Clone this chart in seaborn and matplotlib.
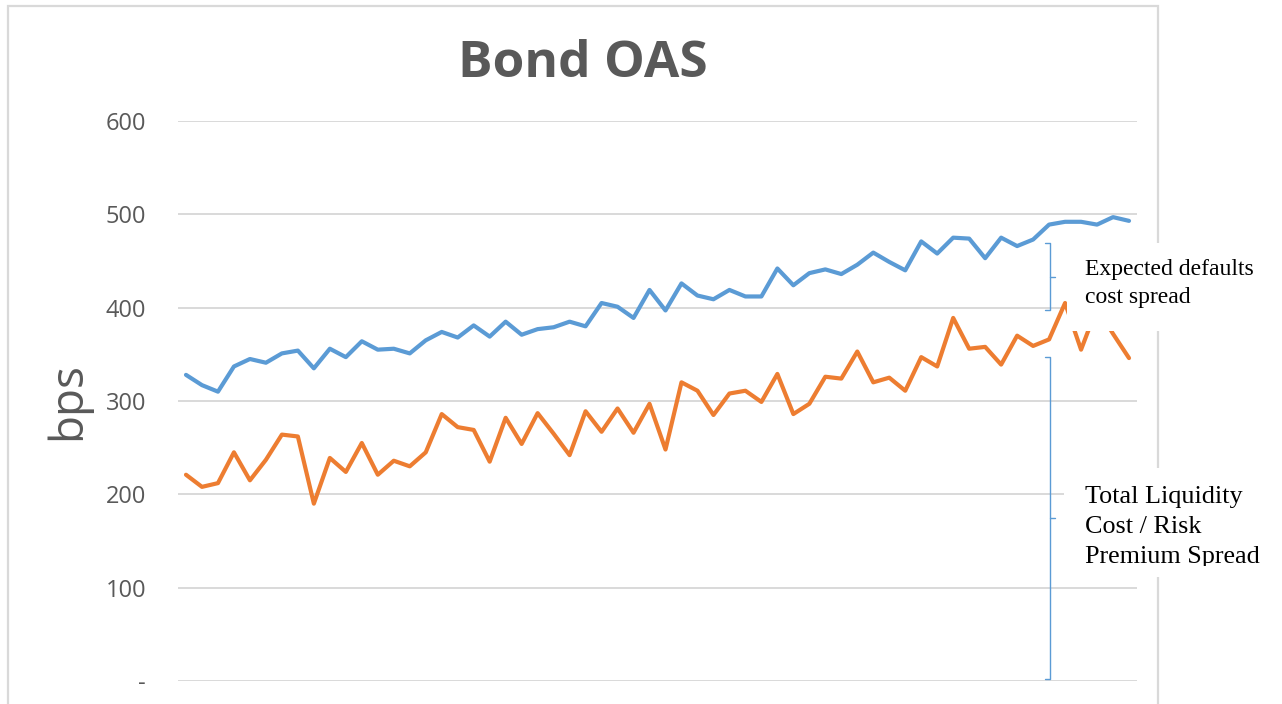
import numpy as np
import pandas as pd
import matplotlib
matplotlib.use("Agg")
import matplotlib.pyplot as plt
from matplotlib.patches import Rectangle
from matplotlib.transforms import Bbox, TransformedBbox
import seaborn as sns

total_oas = [328, 317, 310, 337, 345, 341, 351, 354, 335, 356,
             347, 364, 355, 356, 351, 365, 374, 368, 381, 369,
             385, 371, 377, 379, 385, 380, 405, 401, 389, 419,
             397, 426, 413, 409, 419, 412, 412, 442, 424, 437,
             441, 436, 446, 459, 449, 440, 471, 458, 475, 474,
             453, 475, 466, 473, 489, 492, 492, 489, 497, 493]
liquidity_spread = [221, 208, 212, 245, 215, 237, 264, 262, 190, 239,
                    224, 255, 221, 236, 230, 245, 286, 272, 269, 235,
                    282, 254, 287, 265, 242, 289, 267, 292, 266, 297,
                    248, 320, 311, 285, 308, 311, 299, 329, 286, 297,
                    326, 324, 353, 320, 325, 311, 347, 337, 389, 356,
                    358, 339, 370, 359, 366, 405, 355, 400, 372, 346]
series_names = ["Total OAS", "Liquidity / risk premium"]
series_colors = ["#5B9BD5", "#ED7D31"]
y_ticks = [0, 100, 200, 300, 400, 500, 600]
y_tick_labels = ["-", "100", "200", "300", "400", "500", "600"]

# brace annotations (bps ranges)
defaults_brace = (397, 469)
liquidity_brace = (2, 347)
defaults_text = ["Expected defaults", "cost spread"]
liquidity_text = ["Total Liquidity", "Cost / Risk", "Premium Spread"]

W, H = 1282, 704
GRAY = "#595959"
GRID = "#D9D9D9"
BRACE = "#5B9BD5"


def fx(x):
    return x / W


def fy(y):
    return 1 - y / H


sns.set_theme(style="white")
plt.rcParams["font.family"] = ["Open Sans", "DejaVu Sans"]

n = len(total_oas)
df = pd.DataFrame({
    "period": list(range(n)) * 2,
    "bps": total_oas + liquidity_spread,
    "series": [series_names[0]] * n + [series_names[1]] * n,
})

fig = plt.figure(figsize=(W / 100, H / 100), dpi=100)
ax = fig.add_axes([fx(178), fy(681), fx(1137) - fx(178), fy(121) - fy(681)])

sns.lineplot(data=df, x="period", y="bps", hue="series", palette=series_colors,
             linewidth=3.0, legend=False, ax=ax, zorder=3)

ax.set_xlim(-0.5, n - 0.5)
ax.set_ylim(0, 600)
ax.set_yticks(y_ticks)
ax.set_yticklabels(y_tick_labels)
ax.set_xticks([])
ax.set_xlabel("")
ax.set_ylabel("")
ax.tick_params(axis="y", length=0, pad=23, labelsize=17, labelcolor=GRAY)
for s in ax.spines.values():
    s.set_visible(False)
ax.grid(axis="y", color=GRID, linewidth=1.4)
ax.set_axisbelow(True)

# braces to the right of the series
bx = 54.07
for lo, hi in [defaults_brace, liquidity_brace]:
    mid = (lo + hi) / 2
    ax.plot([bx - 0.3, bx, bx, bx - 0.3], [hi, hi, lo, lo], color=BRACE,
            linewidth=1.0, clip_on=False, zorder=4)
    ax.plot([bx, bx + 0.3], [mid, mid], color=BRACE, linewidth=1.0,
            clip_on=False, zorder=4)

# chart frame
fig.patches.append(Rectangle((fx(8), fy(712)), fx(1158) - fx(8), fy(6) - fy(712),
                             transform=fig.transFigure, facecolor="none",
                             edgecolor=GRID, linewidth=1.6, zorder=-1))

# title and axis label
fig.text(fx(583), fy(77), "Bond OAS", ha="center", va="baseline",
         fontsize=37, fontweight="bold", color=GRAY)
fig.text(fx(68), fy(401), "bps", rotation=90, ha="center", va="center",
         fontsize=33, color=GRAY)

# white text boxes
for x0, y0, x1, y1 in [(1067, 243, 1278, 331), (1064, 468, 1278, 577)]:
    fig.patches.append(Rectangle((fx(x0), fy(y1)), fx(x1) - fx(x0), fy(y0) - fy(y1),
                                 transform=fig.transFigure, facecolor="white",
                                 edgecolor="none", zorder=5))

serif = ["Liberation Serif", "DejaVu Serif"]
for i, line in enumerate(defaults_text):
    fig.text(fx(1085), fy(275 + 27.7 * i), line, ha="left", va="baseline",
             fontsize=17, family=serif, color="black", zorder=6)

clip = TransformedBbox(Bbox([[fx(1060), fy(566)], [fx(1282), fy(460)]]), fig.transFigure)
for i, line in enumerate(liquidity_text):
    t = fig.text(fx(1085), fy(503 + 30 * i), line, ha="left", va="baseline",
                 fontsize=18.8, family=serif, color="black", zorder=6)
    t.set_clip_box(clip)
    t.set_clip_on(True)

fig.savefig("out.png", dpi=100)
